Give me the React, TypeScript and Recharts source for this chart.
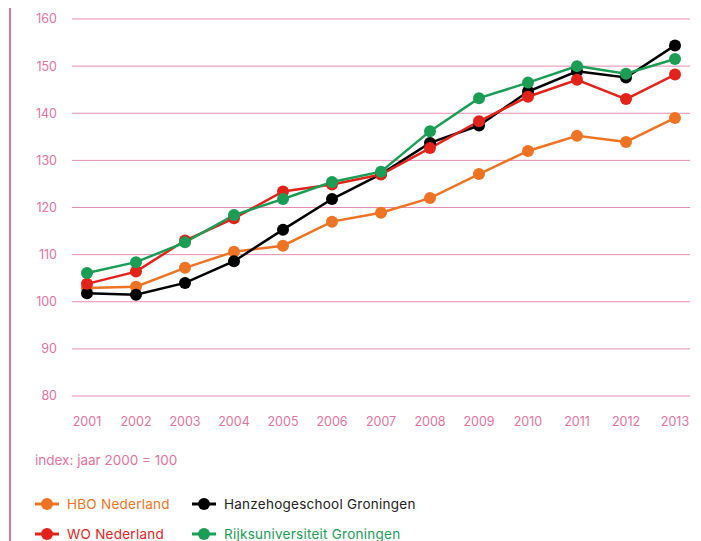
import React from "react";
import { LineChart, Line, XAxis, YAxis, CartesianGrid } from "recharts";

const years = ["2001","2002","2003","2004","2005","2006","2007","2008","2009","2010","2011","2012","2013"];
const hboNederland = [102.9, 103.2, 107.2, 110.6, 111.9, 117.0, 118.9, 122.0, 127.1, 132.0, 135.2, 133.9, 139.0];
const hanzehogeschool = [101.8, 101.5, 104.0, 108.6, 115.3, 121.8, 127.1, 133.7, 137.4, 144.6, 148.9, 147.6, 154.4];
const woNederland = [103.8, 106.4, 113.0, 117.7, 123.4, 124.9, 127.0, 132.6, 138.3, 143.5, 147.1, 143.0, 148.2];
const rijksuniversiteit = [106.1, 108.4, 112.6, 118.4, 121.8, 125.4, 127.6, 136.2, 143.2, 146.5, 150.0, 148.4, 151.5];
const yTicks = [80, 90, 100, 110, 120, 130, 140, 150, 160];

const data = years.map((y, i) => ({
  year: y,
  hbo: hboNederland[i],
  hanze: hanzehogeschool[i],
  wo: woNederland[i],
  rug: rijksuniversiteit[i],
}));

const PINK = "#e2739f";
const GRID = "#e58cb2";
const ORANGE = "#ec7424";
const RED = "#e2231c";
const BLACK = "#000000";
const GREEN = "#1b9d56";
const FONT = "Inter, 'Noto Sans', sans-serif";

const series = [
  { key: "hbo", color: ORANGE },
  { key: "hanze", color: BLACK },
  { key: "wo", color: RED },
  { key: "rug", color: GREEN },
];

const LegendItem = ({ color, label, textColor, left, top }: any) => (
  <div style={{ position: "absolute", left, top, height: 16, display: "flex", alignItems: "center" }}>
    <svg width={26} height={16} style={{ display: "block" }}>
      <line x1={1} y1={8} x2={25} y2={8} stroke={color} strokeWidth={3} />
      <circle cx={13} cy={8} r={6} fill={color} />
    </svg>
    <span style={{ marginLeft: 7, fontFamily: FONT, fontSize: 13.5, color: textColor, whiteSpace: "nowrap", letterSpacing: 0.25 }}>{label}</span>
  </div>
);

export default function App() {
  return (
    <div style={{ position: "absolute", left: 0, top: 0, width: 701, height: 541, background: "#fff", overflow: "hidden" }}>
      <div style={{ position: "absolute", left: 9, top: 8, width: 1.5, height: 533, background: PINK }} />
      <LineChart width={701} height={541} data={data} margin={{ top: 19, right: 11, left: 0, bottom: 115 }}>
        <CartesianGrid vertical={false} stroke={GRID} strokeWidth={1} />
        <XAxis
          dataKey="year"
          axisLine={false}
          tickLine={false}
          tickSize={0}
          tickMargin={21}
          interval={0}
          padding={{ left: 15, right: 15 }}
          tick={{ fill: PINK, fontSize: 12.5, fontFamily: FONT }}
        />
        <YAxis
          domain={[80, 160]}
          ticks={yTicks}
          width={72}
          axisLine={false}
          tickLine={false}
          tickSize={0}
          tickMargin={15}
          tick={{ fill: PINK, fontSize: 12.5, fontFamily: FONT }}
        />
        {series.map((s) => (
          <Line
            key={s.key}
            dataKey={s.key}
            type="linear"
            stroke={s.color}
            strokeWidth={2.5}
            dot={{ r: 6, fill: s.color, stroke: "none" }}
            activeDot={false}
            isAnimationActive={false}
          />
        ))}
      </LineChart>
      <div style={{ position: "absolute", left: 35, top: 452, fontFamily: FONT, fontSize: 13.5, color: PINK }}>
        index: jaar 2000 = 100
      </div>
      <LegendItem color={ORANGE} label="HBO Nederland" textColor={ORANGE} left={34} top={496} />
      <LegendItem color={BLACK} label="Hanzehogeschool Groningen" textColor="#222" left={191} top={496} />
      <LegendItem color={RED} label="WO Nederland" textColor={RED} left={34} top={526} />
      <LegendItem color={GREEN} label="Rijksuniversiteit Groningen" textColor={GREEN} left={191} top={526} />
    </div>
  );
}
